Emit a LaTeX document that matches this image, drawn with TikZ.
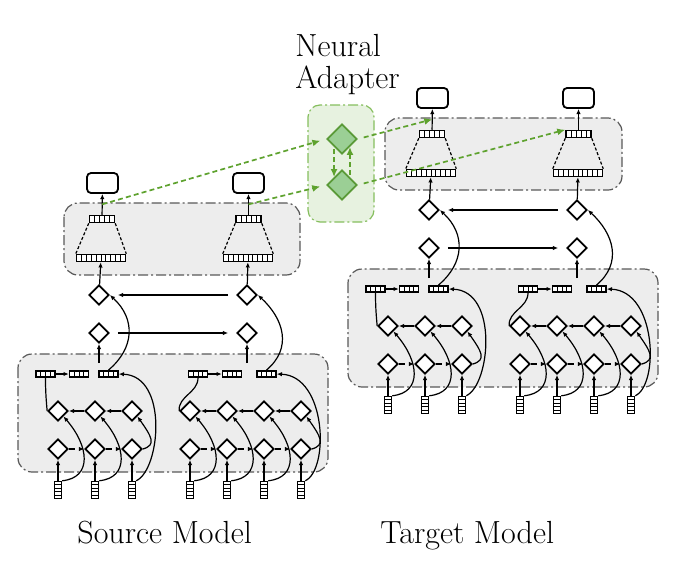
\documentclass[tikz,border=0pt]{standalone}
\usetikzlibrary{arrows.meta,shapes.geometric,calc}
\definecolor{boxgray}{HTML}{EDEDED}
\definecolor{adgreen}{HTML}{5EA22E}
\definecolor{adline}{HTML}{86BE5E}
\definecolor{adfill}{HTML}{E7F2E0}
\definecolor{dmfill}{HTML}{9BCF95}
\definecolor{dmline}{HTML}{5A9A38}
\tikzset{
	hcells/.style 2 args={path picture={\foreach \k in {1,...,#1} \draw[line width=.5pt] ([xshift=\k*#2]path picture bounding box.south west) -- ([xshift=\k*#2]path picture bounding box.north west);}},
	vcells/.style 2 args={path picture={\foreach \k in {1,...,#1} \draw[line width=.5pt] ([yshift=\k*#2]path picture bounding box.south west) -- ([yshift=\k*#2]path picture bounding box.south east);}},
	cell/.style={draw, line width=.75pt, fill=white, inner sep=0pt},
	tok/.style={cell, minimum width=3.5pt, minimum height=8.5pt, vcells={4}{1.7pt}},
	hvec/.style={cell, minimum width=9.5pt, minimum height=3.2pt, hcells={3}{2.375pt}},
	wvec/.style={cell, minimum width=24.5pt, minimum height=3.5pt, hcells={9}{2.45pt}},
	nvec/.style={cell, minimum width=12.5pt, minimum height=3.5pt, hcells={4}{2.5pt}},
	outbox/.style={draw, line width=.9pt, rounded corners=2pt, fill=white, minimum width=15.5pt, minimum height=10pt},
	dmd/.style={diamond, draw, line width=.85pt, fill=white, inner sep=0pt, minimum size=10pt},
	gdmd/.style={diamond, draw=dmline, line width=.9pt, fill=dmfill, inner sep=0pt, minimum size=15pt},
	arr/.style={-{Latex[length=2.6pt,width=2.2pt]}, line width=.6pt},
	trap/.style={line width=.6pt, dash pattern=on 1.5pt off 1pt},
	garr/.style={adgreen, line width=.85pt, dash pattern=on 2.5pt off 1.6pt, -{Latex[length=4pt,width=3.5pt]}},
	modelbox/.style={draw=black!65, fill=boxgray, rounded corners=7pt, line width=.6pt, dash pattern=on 5pt off 1.5pt on 1pt off 1.5pt},
	adbox/.style={draw=adline, fill=adfill, rounded corners=6pt, line width=.6pt, dash pattern=on 5pt off 1.5pt on 1pt off 1.5pt},
	lbl/.style={font=\fontsize{16}{19}\selectfont, inner sep=0pt}
}
\begin{document}
\begin{tikzpicture}[x=.5pt,y=-.5pt]
	\useasboundingbox (0,0) rectangle (694,578);
	
	% source and target model, same layout
	\foreach \m/\dx/\dy/\bl/\br in {s/0/0/64/300, t/330/-85/55/292}{
		\begin{scope}[shift={(\dx,\dy)}]
		\draw[modelbox] (18,354) rectangle (328,472);
		\draw[modelbox] (\bl,203) rectangle (\br,275);
		\coordinate (\m-bt) at (0,363);
		
		% encoder: two groups of tokens
		\foreach \g/\nc/\xo/\va/\vb/\vc in {a/3/58/45.5/79/108.5, b/4/190/198/232/266.5}{
			\foreach \i in {1,...,\nc}{
				\pgfmathsetmacro\xx{\xo+37*(\i-1)}
				\node[tok] (\m-\g-t\i) at (\xx,490) {};
				\node[dmd] (\m-\g-l\i) at (\xx,449) {};
				\node[dmd] (\m-\g-u\i) at (\xx,411) {};
				\draw[arr] (\m-\g-t\i) -- (\m-\g-l\i);
			}
			\node[hvec] (\m-\g-v1) at (\va,374) {};
			\node[hvec] (\m-\g-v2) at (\vb,374) {};
			\node[hvec] (\m-\g-v3) at (\vc,374) {};
			\foreach \i in {2,...,\nc}{
				\pgfmathtruncatemacro\ip{\i-1}
				\draw[arr, dashed] (\m-\g-l\ip) -- (\m-\g-l\i);
				\draw[arr] (\m-\g-u\i) -- (\m-\g-u\ip);
				\draw[arr] (\m-\g-t\ip.north east) .. controls +(30,-3) and +(26,30) .. (\m-\g-u\ip.south east);
			}
			\draw[arr] (\m-\g-l\nc.east) .. controls +(14,-4) and +(14,20) .. (\m-\g-u\nc.south east);
			\draw[arr] (\m-\g-t\nc.north east) .. controls +(24,-11) and +(50,2) .. (\m-\g-v3.east);
			\draw[line width=.6pt] (\m-\g-u1.west) to[out=95,in=-90] (\m-\g-v1.south);
			\draw[arr] (\m-\g-v1) -- (\m-\g-v2);
		}
		
		% decoder
		\node[dmd] (\m-h1) at (99,333) {};
		\node[dmd] (\m-g1) at (99,295) {};
		\node[dmd] (\m-h2) at (247,333) {};
		\node[dmd] (\m-g2) at (247,295) {};
		\node[wvec] (\m-w1) at (101,258) {};
		\node[wvec] (\m-w2) at (248,258) {};
		\node[nvec] (\m-n1) at (102,219) {};
		\node[nvec] (\m-n2) at (248.5,219) {};
		\node[outbox] (\m-o1) at (102.5,183) {};
		\node[outbox] (\m-o2) at (248.5,183) {};
		
		\draw[arr] (\m-h1 |- \m-bt) -- (\m-h1);
		\draw[arr] (\m-h2 |- \m-bt) -- (\m-h2);
		\draw[arr] (\m-a-v3.north) .. controls +(26,-22) and +(26,24) .. (\m-g1.east);
		\draw[arr] (\m-b-v3.north) .. controls +(26,-22) and +(26,24) .. (\m-g2.east);
		\draw[arr, shorten >=4pt, shorten <=4pt] (\m-h1) -- (\m-h2);
		\draw[arr, shorten >=4pt, shorten <=4pt] (\m-g2) -- (\m-g1);
		\foreach \k in {1,2}{
			\draw[arr] (\m-g\k) -- (\m-w\k);
			\draw[trap] (\m-n\k.south west) -- (\m-w\k.north west) (\m-n\k.south east) -- (\m-w\k.north east);
			\draw[arr] (\m-n\k) -- (\m-o\k);
			\coordinate (\m-p\k) at ($(\m-o\k.south)!.5!(\m-n\k.north)$);
		}
		\end{scope}
	}
	
	% neural adapter
	\draw[adbox] (308,105) rectangle (374,222);
	\node[gdmd] (a1) at (342,139) {};
	\node[gdmd] (a2) at (342,185) {};
	\draw[garr, shorten <=1pt] (a1.south west) -- (a2.north west);
	\draw[garr, shorten <=1pt] (a2.north east) -- (a1.south east);
	\draw[garr, shorten >=3pt] (s-p1) -- (a1.west);
	\draw[garr, shorten >=3pt] (s-p2) -- (a2.west);
	\draw[garr, shorten <=3pt] (a1.east) -- (t-p1);
	\draw[garr, shorten <=3pt] (a2.east) -- (t-n2.north west);
	
	\node[lbl, anchor=base west] (nLbl) at (295,56) {Neural};
	\node[lbl, anchor=base west] (aLbl) at (295,88) {Adapter};
	\node[lbl, anchor=base west] (srcLbl) at (77,543) {Source Model};
	\node[lbl, anchor=base west] (tgtLbl) at (380,543) {Target Model};
\end{tikzpicture}
\end{document}
